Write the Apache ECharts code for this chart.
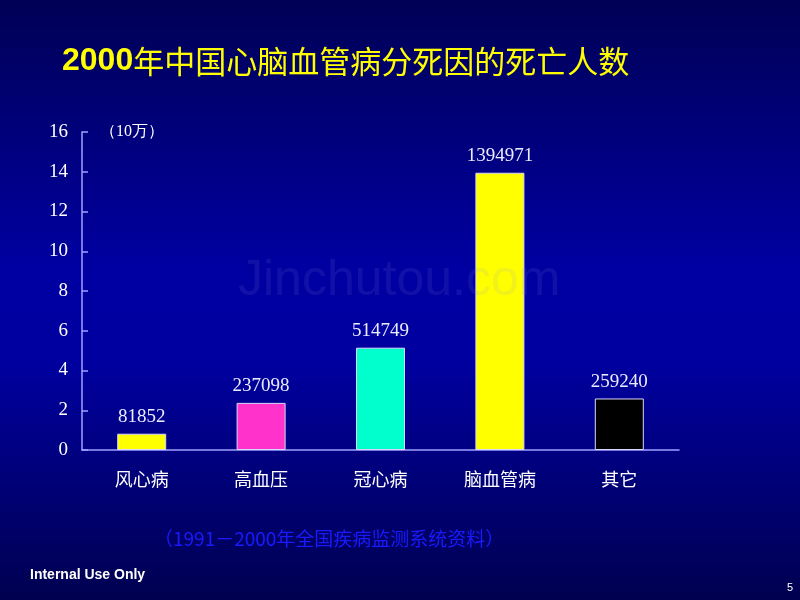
<!DOCTYPE html>
<html><head><meta charset="utf-8">
<script src="https://cdn.jsdelivr.net/npm/echarts@6/dist/echarts.min.js"></script>
<style>html,body{margin:0;padding:0;}#c{width:800px;height:600px;}</style>
</head><body><div id="c"></div>
<script>
const categories = ['风心病', '高血压', '冠心病', '脑血管病', '其它'];
const deaths = [81852, 237098, 514749, 1394971, 259240];
const barColors = ['#ffff00', '#ff33cc', '#00ffcc', '#ffff00', '#000000'];
const yTicks = [0, 2, 4, 6, 8, 10, 12, 14, 16];
const unit = 100000;

const chart = echarts.init(document.getElementById('c'), null, {renderer: 'canvas'});
const axisColor = '#a0a0ff';
const serif = '"Liberation Serif","DejaVu Serif",serif';
const cjk = '"Noto Sans CJK SC","Noto Sans",sans-serif';
chart.setOption({
  backgroundColor: {
    type: 'linear', x: 0, y: 0, x2: 0, y2: 1,
    colorStops: [
      {offset: 0, color: '#000055'},
      {offset: 0.45, color: '#0000a2'},
      {offset: 0.6, color: '#0000a0'},
      {offset: 1, color: '#000050'}
    ]
  },
  animation: false,
  grid: {left: 82, right: 121, top: 132, bottom: 150},
  xAxis: {
    type: 'category',
    data: categories,
    axisLine: {lineStyle: {color: axisColor, width: 1.5}},
    axisTick: {inside: true, length: 6, lineStyle: {color: axisColor, width: 1.5}},
    axisLabel: {color: '#ffffff', fontSize: 18, fontFamily: cjk, margin: 20}
  },
  yAxis: {
    type: 'value', min: yTicks[0], max: yTicks[yTicks.length - 1], interval: 2,
    splitLine: {show: false},
    axisLine: {show: true, lineStyle: {color: axisColor, width: 1.5}},
    axisTick: {show: true, inside: true, length: 6, lineStyle: {color: axisColor, width: 1.5}},
    axisLabel: {color: '#ffffff', fontSize: 19, fontFamily: serif, margin: 14}
  },
  series: [{
    type: 'bar',
    barWidth: 49,
    data: deaths.map((v, i) => ({
      value: v / unit,
      itemStyle: {color: barColors[i], borderColor: '#d8d8ff', borderWidth: 1}
    })),
    label: {
      show: true, position: 'top', distance: 7,
      color: '#ececff', fontSize: 19, fontFamily: serif,
      formatter: p => String(deaths[p.dataIndex])
    }
  }],
  graphic: [
    {type: 'text', left: 62, top: 45, style: {
      text: '{a|2000}{b|年中国心脑血管病分死因的死亡人数}',
      rich: {
        a: {fill: '#ffff00', fontSize: 32, fontWeight: 'bold', fontFamily: '"Liberation Sans",Arial,sans-serif'},
        b: {fill: '#ffff00', fontSize: 31, fontFamily: cjk}
      },
      textShadowColor: 'rgba(0,0,0,0.7)', textShadowOffsetX: 2, textShadowOffsetY: 2
    }},
    {type: 'text', left: 100, top: 124, style: {
      text: '（10万）', fill: '#ffffff', fontSize: 16, fontFamily: serif
    }},
    {type: 'text', left: 238, top: 256, z: 100, silent: true, style: {
      text: 'Jinchutou.com', fill: 'rgba(140,140,220,0.12)', fontSize: 50, fontFamily: '"Liberation Sans",Arial,sans-serif'
    }},
    {type: 'text', left: 154, top: 529, style: {
      text: '（1991－2000年全国疾病监测系统资料）', fill: '#1a1aff', fontSize: 19, fontFamily: cjk
    }},
    {type: 'text', left: 30, top: 568, style: {
      text: 'Internal Use Only', fill: '#ffffff', fontSize: 14, fontWeight: 'bold', fontFamily: '"Liberation Sans",Arial,sans-serif'
    }},
    {type: 'text', left: 787, top: 582, style: {
      text: '5', fill: '#ffffff', fontSize: 11, fontFamily: '"Liberation Sans",Arial,sans-serif'
    }}
  ]
});
</script></body></html>
